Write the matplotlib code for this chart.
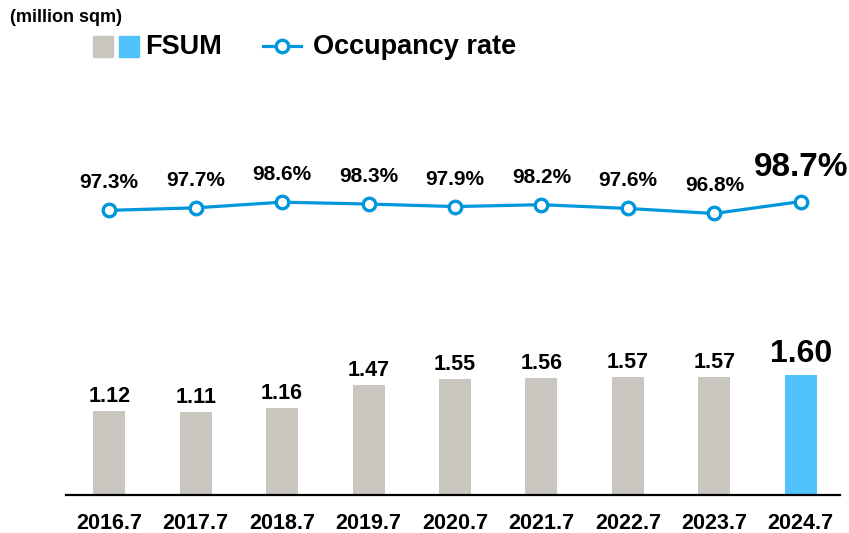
import matplotlib.pyplot as plt
from matplotlib.lines import Line2D
from matplotlib.patches import Rectangle

plt.rcParams["font.family"] = ["Liberation Sans", "DejaVu Sans"]
plt.rcParams["font.weight"] = "bold"

# ----------------------------------------------------------
# DATA
# ----------------------------------------------------------

periods = ["2016.7", "2017.7", "2018.7", "2019.7", "2020.7",
           "2021.7", "2022.7", "2023.7", "2024.7"]
fsum = [1.12, 1.11, 1.16, 1.47, 1.55, 1.56, 1.57, 1.57, 1.60]
occupancy = [97.3, 97.7, 98.6, 98.3, 97.9, 98.2, 97.6, 96.8, 98.7]

GRAY = "#C8C6BE"
BLUE_BAR = "#50C4FA"
BLUE_LINE = "#0096DB"

# ----------------------------------------------------------
# FIGURE
# ----------------------------------------------------------

W, H = 849, 533
fig = plt.figure(figsize=(W / 100, H / 100), dpi=100)

# axes: x from 66px to 844px, y from baseline (495px) to top of figure
ax = fig.add_axes([66 / W, 1 - 495 / H, 778 / W, 495 / H])
ax2 = ax.twinx()

x = list(range(len(periods)))
colors = [GRAY] * (len(fsum) - 1) + [BLUE_BAR]
ax.bar(x, fsum, width=0.37, color=colors, zorder=2)

for i, v in enumerate(fsum):
    last = i == len(fsum) - 1
    ax.annotate(f"{v:.2f}", (i, v), xytext=(0, 3 if not last else 4),
                textcoords="offset points", ha="center", va="bottom",
                fontsize=23 if last else 15.5, fontweight="bold")

ax.set_xlim(-0.5, 8.5)
ax.set_ylim(0, 6.6)

ax2.plot(x, occupancy, color=BLUE_LINE, lw=2.3, marker="o", ms=9,
         mfc="white", mec=BLUE_LINE, mew=2.4, zorder=3)
for i, v in enumerate(occupancy):
    last = i == len(occupancy) - 1
    ax2.annotate(f"{v:.1f}%", (i, v), xytext=(0, 13 if not last else 13),
                 textcoords="offset points", ha="center", va="bottom",
                 fontsize=24 if last else 15, fontweight="bold")
ax2.set_ylim(52.1, 130.7)

for a in (ax, ax2):
    for s in a.spines.values():
        s.set_visible(False)
    a.set_yticks([])
ax.spines["bottom"].set_visible(True)
ax.spines["bottom"].set_linewidth(1.6)
ax.spines["bottom"].set_bounds(-0.5, 8.45)

ax.set_xticks(x)
ax.set_xticklabels(periods, fontsize=15.5, fontweight="bold")
ax.tick_params(axis="x", length=0, pad=13)

# ----------------------------------------------------------
# HEADER / LEGEND
# ----------------------------------------------------------

fig.text(10 / W, 1 - 18 / H, "(million sqm)", fontsize=13,
         fontweight="bold", va="center", ha="left")

for x0, c in ((93, GRAY), (119, BLUE_BAR)):
    fig.patches.append(Rectangle((x0 / W, 1 - 57 / H), 20 / W, 21 / H,
                                 color=c, transform=fig.transFigure))
fig.text(145 / W, 1 - 47 / H, "FSUM", fontsize=19.5, fontweight="bold",
         va="center", ha="left")

fig.lines.append(Line2D([263 / W, 301 / W], [1 - 46 / H, 1 - 46 / H],
                        color=BLUE_LINE, lw=2.3, marker=None,
                        transform=fig.transFigure))
fig.lines.append(Line2D([282 / W], [1 - 46 / H], color=BLUE_LINE,
                        marker="o", ms=9, mfc="white", mec=BLUE_LINE,
                        mew=2.4, transform=fig.transFigure))
fig.text(313 / W, 1 - 47 / H, "Occupancy rate", fontsize=19.5,
         fontweight="bold", va="center", ha="left")

fig.savefig("out.png", dpi=100)
